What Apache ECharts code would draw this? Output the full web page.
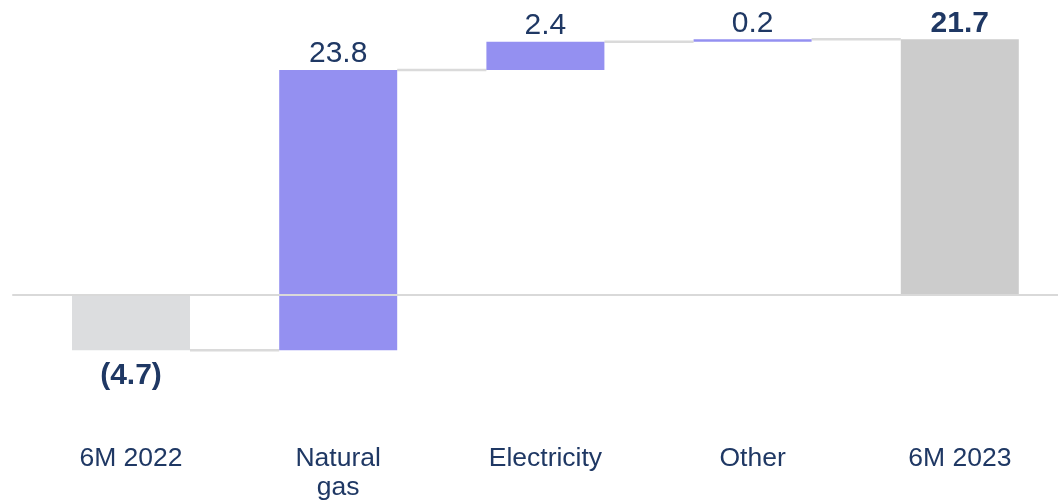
<!DOCTYPE html>
<html>
<head>
<meta charset="utf-8">
<script src="https://cdn.jsdelivr.net/npm/echarts@6/dist/echarts.min.js"></script>
<style>
html,body{margin:0;padding:0;background:#fff;}
#c{width:1058px;height:502px;}
</style>
</head>
<body>
<div id="c"></div>
<script>
const categories = ['6M 2022', 'Natural\ngas', 'Electricity', 'Other', '6M 2023'];
const values = [-4.7, 23.8, 2.4, 0.2, 21.7];
const isTotal = [true, false, false, false, true];
const valueLabels = ['(4.7)', '23.8', '2.4', '0.2', '21.7'];

const NAVY = '#1F3864';
const PURPLE = '#9490F1';
const colors = ['#DCDDDF', PURPLE, PURPLE, PURPLE, '#CCCCCC'];
const BAR_W = 118;

const bases = [];
const ends = [];
let run = 0;
for (let i = 0; i < values.length; i++) {
  if (isTotal[i]) { bases.push(0); run = values[i]; }
  else { bases.push(run); run = Math.round((run + values[i]) * 100) / 100; }
  ends.push(run);
}
const connectorData = [];
for (let i = 0; i < values.length - 1; i++) connectorData.push([i, ends[i]]);

const mainData = values.map((v, i) => ({
  value: v,
  itemStyle: { color: colors[i] },
  label: {
    show: true,
    formatter: valueLabels[i],
    position: v < 0 ? 'bottom' : 'top',
    distance: v < 0 ? 10 : 1,
    fontWeight: isTotal[i] ? 'bold' : 'normal'
  }
}));

const chart = echarts.init(document.getElementById('c'), null, { renderer: 'canvas' });
chart.setOption({
  animation: false,
  grid: [
    { left: 27.4, right: -5.4, top: 0.5, bottom: 89.2, containLabel: false, outerBoundsMode: 'none' },
    { left: 13, right: 0, top: 0.5, bottom: 89.2, containLabel: false, outerBoundsMode: 'none' }
  ],
  xAxis: [
    {
      type: 'category', gridIndex: 0, data: categories,
      axisLine: { show: false, onZero: false },
      axisTick: { show: false },
      axisLabel: {
        interval: 0, margin: 32, color: NAVY,
        fontFamily: 'Liberation Sans, Arial, sans-serif',
        fontSize: 26.5, lineHeight: 28.5
      }
    },
    {
      type: 'category', gridIndex: 1, data: [''], z: 10,
      axisLine: { show: true, onZero: true, lineStyle: { color: '#D9D9D9', width: 2 } },
      axisTick: { show: false }, axisLabel: { show: false }
    }
  ],
  yAxis: [
    { type: 'value', gridIndex: 0, min: -10, max: 25, show: false, splitLine: { show: false } },
    { type: 'value', gridIndex: 1, min: -10, max: 25, show: false, splitLine: { show: false } }
  ],
  series: [
    {
      type: 'custom', xAxisIndex: 0, yAxisIndex: 0, z: 1,
      data: connectorData,
      renderItem: function (params, api) {
        const p = api.coord([api.value(0), api.value(1)]);
        const band = api.size([1, 0])[0];
        return {
          type: 'line',
          shape: { x1: p[0] + BAR_W / 2, y1: p[1], x2: p[0] + band - BAR_W / 2, y2: p[1] },
          style: { stroke: '#DADADA', lineWidth: 2.5 }
        };
      },
      silent: true
    },
    {
      type: 'bar', stack: 'w', stackStrategy: 'all', barWidth: BAR_W,
      data: bases, itemStyle: { color: 'rgba(0,0,0,0)' }, silent: true
    },
    {
      type: 'bar', stack: 'w', stackStrategy: 'all', barWidth: BAR_W,
      data: mainData,
      label: {
        color: NAVY, fontSize: 30,
        fontFamily: 'Liberation Sans, Arial, sans-serif'
      }
    }
  ]
});
</script>
</body>
</html>
